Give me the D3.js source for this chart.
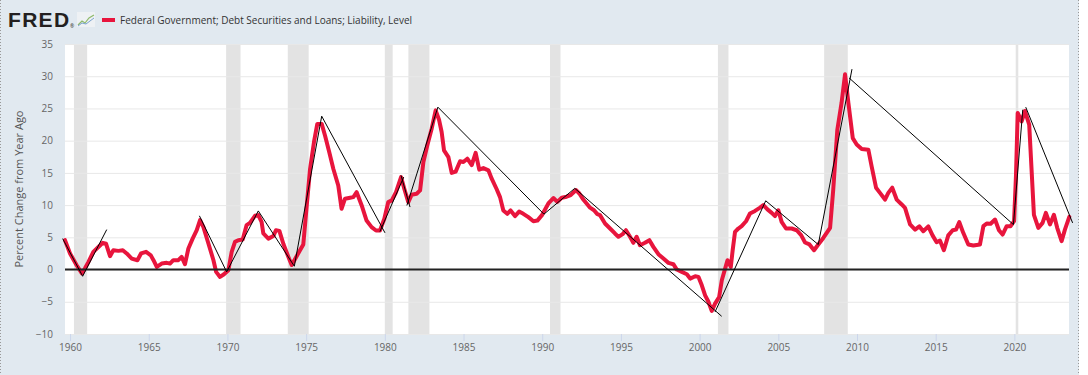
<!DOCTYPE html>
<html>
<head>
<meta charset="utf-8">
<script src="https://cdn.jsdelivr.net/npm/d3@7"></script>
<style>
  body { margin: 0; background: #fff; }
  text { font-family: "Open Sans", sans-serif; }
</style>
</head>
<body>
<div id="chart"></div>
<script>
// percent change from year ago (decimal year, value)
var years = [1959.68,1960.0,1960.42,1960.75,1960.95,1961.17,1961.48,1961.8,1962.08,1962.29,1962.54,1962.75,1963.07,1963.35,1963.6,1963.92,1964.28,1964.51,1964.83,1965.13,1965.3,1965.51,1965.82,1966.14,1966.35,1966.56,1966.88,1967.09,1967.3,1967.52,1967.79,1968.05,1968.26,1968.47,1968.79,1969.11,1969.28,1969.53,1969.78,1970.06,1970.27,1970.48,1970.69,1970.97,1971.22,1971.43,1971.75,1971.96,1972.17,1972.28,1972.6,1972.92,1973.08,1973.3,1973.55,1973.87,1974.08,1974.29,1974.61,1974.82,1975.04,1975.25,1975.5,1975.71,1975.99,1976.2,1976.47,1976.73,1977.04,1977.25,1977.47,1977.79,1978.0,1978.21,1978.53,1978.84,1979.16,1979.44,1979.69,1979.97,1980.22,1980.44,1980.71,1981.03,1981.24,1981.49,1981.7,1982.02,1982.24,1982.45,1982.7,1982.98,1983.23,1983.45,1983.61,1983.76,1984.04,1984.25,1984.5,1984.78,1984.99,1985.24,1985.52,1985.77,1986.0,1986.26,1986.58,1986.79,1987.1,1987.32,1987.53,1987.78,1987.99,1988.27,1988.53,1988.8,1989.12,1989.44,1989.69,1989.97,1990.39,1990.71,1990.96,1991.24,1991.55,1991.81,1992.15,1992.36,1992.57,1992.82,1993.04,1993.29,1993.5,1993.67,1993.99,1994.31,1994.62,1994.84,1995.11,1995.32,1995.58,1995.79,1996.0,1996.21,1996.53,1996.81,1997.06,1997.38,1997.7,1998.02,1998.33,1998.55,1998.87,1999.19,1999.4,1999.72,1999.93,2000.14,2000.35,2000.56,2000.77,2000.98,2001.24,2001.41,2001.62,2001.77,2001.98,2002.1,2002.25,2002.46,2002.67,2002.95,2003.2,2003.52,2003.84,2004.05,2004.31,2004.58,2004.79,2005.0,2005.21,2005.49,2005.85,2006.17,2006.45,2006.7,2006.98,2007.27,2007.54,2007.86,2008.29,2008.49,2008.75,2009.02,2009.24,2009.45,2009.73,2009.98,2010.3,2010.72,2010.93,2011.21,2011.46,2011.78,2011.99,2012.24,2012.52,2012.84,2013.05,2013.37,2013.69,2013.96,2014.21,2014.53,2014.8,2015.06,2015.27,2015.52,2015.8,2016.08,2016.29,2016.5,2016.75,2017.07,2017.39,2017.81,2018.03,2018.24,2018.49,2018.77,2019.02,2019.25,2019.51,2019.76,2019.98,2020.1,2020.21,2020.46,2020.67,2020.94,2021.09,2021.24,2021.52,2021.79,2022.0,2022.26,2022.51,2022.72,2023.0,2023.21,2023.49];
var pct = [4.56,2.5,0.67,-0.6,0.2,1.2,2.75,3.5,4.15,4.0,2.07,3.0,2.9,3.0,2.5,1.7,1.45,2.5,2.75,2.2,1.45,0.4,0.93,1.04,0.93,1.45,1.45,1.97,0.83,3.26,4.8,6.1,7.67,6.63,4.04,1.45,-0.36,-1.14,-0.73,-0.1,2.75,4.3,4.56,4.66,6.9,7.25,8.34,8.45,7.4,5.6,4.8,5.2,6.1,6.0,4.0,1.97,0.7,1.6,3.0,3.9,9.95,15.6,19.8,22.6,22.6,20.8,18.2,15.6,13.05,9.43,11.0,11.14,11.24,12.0,9.95,7.6,6.58,6.06,6.06,7.88,10.47,10.73,12.0,14.35,12.5,10.47,11.6,11.76,12.28,16.7,19.3,21.9,24.7,23.2,21.35,18.5,17.46,15.0,15.2,16.8,16.7,17.2,16.2,18.1,15.5,15.75,15.4,14.1,12.5,11.24,9.17,8.65,9.17,8.3,9.0,8.65,8.13,7.5,7.6,8.4,10.26,11.1,10.5,11.14,11.3,11.55,12.33,11.8,11.0,10.26,9.6,9.2,8.6,8.45,7.15,6.37,5.6,5.08,5.5,6.1,5.08,4.15,5.08,3.78,4.15,4.56,3.52,2.38,1.7,1.04,0.83,0.0,-0.36,-0.73,-1.4,-1.04,-1.14,-2.44,-4.0,-5.0,-6.42,-5.28,-4.25,-1.66,0.15,1.45,0.41,3.0,5.85,6.37,6.74,7.5,8.7,9.1,9.6,10.0,9.33,8.8,8.3,9.2,7.4,6.37,6.37,6.1,5.34,4.2,3.9,3.0,3.88,4.9,6.47,12.4,21.7,25.9,30.3,25.9,20.4,19.4,18.7,18.6,16.0,12.7,11.9,10.86,11.9,12.7,10.86,10.1,9.57,7.0,6.2,6.7,5.95,6.7,5.3,4.24,4.5,3.0,5.3,6.1,6.2,7.35,5.7,3.88,3.72,3.88,6.73,7.14,7.1,7.76,6.1,5.43,6.73,6.73,7.5,14.5,24.3,23.0,24.6,22.5,15.5,8.5,6.47,7.24,8.8,7.0,8.5,6.47,4.4,6.2,8.17];

// recessions (shaded)
var recStart = ["1960-04-01","1969-12-01","1973-11-01","1980-01-01","1981-07-01","1990-07-01","2001-03-01","2007-12-01","2020-02-01"];
var recEnd   = ["1961-02-01","1970-11-01","1975-03-01","1980-07-01","1982-11-01","1991-03-01","2001-11-01","2009-06-01","2020-04-01"];

// hand drawn black zigzag lines (decimal year, value)
var trendLines = [
  [[1959.53,4.8],[1960.8,-1.04],[1962.33,6.2]],
  [[1968.22,8.34],[1969.95,-0.36],[1971.96,9.1],[1974.25,0.52],[1975.99,23.8],[1980.01,5.7]],
  [[1979.69,5.9],[1981.2,14.35]],
  [[1981.03,14.6],[1981.6,9.7]],
  [[1981.4,9.95],[1983.37,25.2],[1990.11,8.6],[1992.07,12.6],[2001.4,-7.25]],
  [[2000.98,-6.58],[2004.2,10.67],[2007.54,3.88],[2009.68,31.1]],
  [[2009.49,29.75],[2019.94,6.98],[2020.53,24.8]],
  [[2020.72,25.2],[2023.7,7.24]]
];

var yTicks = [-10,-5,0,5,10,15,20,25,30,35];
var seriesName = "Federal Government; Debt Securities and Loans; Liability, Level";
var yTitle = "Percent Change from Year Ago";

var W = 1088, H = 375;
var plot = {left: 65, right: 1069, top: 44, bottom: 334};

function toDate(y){
    var yr = Math.floor(y);
    var s = new Date(yr,0,1), e = new Date(yr+1,0,1);
    return new Date(+s + (y-yr)*(e-s));
}

var xScale = d3.scaleTime()
    .domain([toDate(1959.68), toDate(2023.47)])
    .range([plot.left, plot.right]);

var yScale = d3.scaleLinear()
    .domain([-10, 35])
    .range([plot.bottom, plot.top]);

var svg = d3.select("#chart").append("svg")
    .attr("width", W)
    .attr("height", H);

// outer background
svg.append("rect")
    .attr("x",0).attr("y",0).attr("width",1079).attr("height",H)
    .attr("fill","#e1e9f0");
svg.append("line")
    .attr("x1",0.5).attr("x2",0.5).attr("y1",0).attr("y2",H)
    .attr("stroke","#999").attr("stroke-dasharray","1,2");
svg.append("line")
    .attr("x1",1078.5).attr("x2",1078.5).attr("y1",0).attr("y2",H)
    .attr("stroke","#999").attr("stroke-dasharray","1,2");

// header: logo + legend
var head = svg.append("g");
head.append("text")
    .attr("x",8).attr("y",27)
    .style("font-family","'Liberation Sans', Arial, sans-serif")
    .style("font-weight","bold")
    .style("font-size","21px")
    .style("letter-spacing","1.3px")
    .attr("fill","#231f20")
    .text("FRED");
head.append("text")
    .attr("x",70).attr("y",28)
    .style("font-size","5px")
    .attr("fill","#231f20")
    .text("®");
var icon = head.append("g").attr("transform","translate(77,12)");
icon.append("rect").attr("width",18).attr("height",15).attr("fill","#eef1f4");
icon.append("polyline")
    .attr("points","1,13 5,9 8,11 12,6 17,3")
    .attr("fill","none").attr("stroke","#8db96b").attr("stroke-width",1.2);
icon.append("polyline")
    .attr("points","1,14 5,11 9,12 13,9 17,6")
    .attr("fill","none").attr("stroke","#7aa3cf").attr("stroke-width",1);

head.append("line")
    .attr("x1",102).attr("x2",115).attr("y1",20).attr("y2",20)
    .attr("stroke","#e8153d").attr("stroke-width",4);
head.append("text")
    .attr("x",120).attr("y",24)
    .style("font-size","10px")
    .attr("fill","#333")
    .text(seriesName);

// plot area
svg.append("rect")
    .attr("x",plot.left).attr("y",plot.top)
    .attr("width",plot.right-plot.left).attr("height",plot.bottom-plot.top)
    .attr("fill","#fff");

svg.append("g").selectAll("rect")
    .data(recStart)
    .enter()
    .append("rect")
    .attr("x", function(d){ return xScale(new Date(d)); })
    .attr("width", function(d,i){ return xScale(new Date(recEnd[i])) - xScale(new Date(d)); })
    .attr("y", plot.top)
    .attr("height", plot.bottom-plot.top)
    .attr("fill","#e3e3e3");

// grid
svg.append("g").selectAll("line")
    .data(yTicks)
    .enter()
    .append("line")
    .attr("x1",plot.left).attr("x2",plot.right)
    .attr("y1",function(d){ return yScale(d)+0.5; })
    .attr("y2",function(d){ return yScale(d)+0.5; })
    .attr("stroke","#e8e8e8");

// y axis labels
var yAxis = d3.axisLeft(yScale).tickValues(yTicks).tickSize(0).tickPadding(12);
var yg = svg.append("g")
    .attr("transform","translate(" + plot.left + ",0)")
    .call(yAxis);
yg.select(".domain").remove();
yg.selectAll("text")
    .style("font-family","'Open Sans', sans-serif")
    .style("font-size","10px")
    .attr("fill","#666");

svg.append("text")
    .attr("transform","translate(23,189) rotate(-90)")
    .attr("text-anchor","middle")
    .style("font-size","11px")
    .attr("fill","#555")
    .text(yTitle);

// x axis
var xAxis = d3.axisBottom(xScale)
    .ticks(d3.timeYear.every(5))
    .tickFormat(d3.timeFormat("%Y"))
    .tickSize(7)
    .tickPadding(3);
var xg = svg.append("g")
    .attr("transform","translate(0," + plot.bottom + ")")
    .call(xAxis);
xg.select(".domain").remove();
xg.selectAll("line").attr("stroke","#ccd6eb");
xg.selectAll("text")
    .style("font-family","'Open Sans', sans-serif")
    .style("font-size","10px")
    .attr("fill","#666");

// series
var data = years.map(function(y,i){ return {date: toDate(y), value: pct[i]}; });
var line = d3.line()
    .x(function(d){ return xScale(d.date); })
    .y(function(d){ return yScale(d.value); });

svg.append("path")
    .datum(data)
    .attr("d", line)
    .attr("fill","none")
    .attr("stroke","#e8153d")
    .attr("stroke-width",4)
    .attr("stroke-linejoin","round")
    .attr("stroke-linecap","round");

// zero line
svg.append("line")
    .attr("x1",plot.left).attr("x2",plot.right)
    .attr("y1",yScale(0)).attr("y2",yScale(0))
    .attr("stroke","#222").attr("stroke-width",2);

// black zigzag lines
var tline = d3.line()
    .x(function(d){ return xScale(toDate(d[0])); })
    .y(function(d){ return yScale(d[1]); });
svg.append("g").selectAll("path")
    .data(trendLines)
    .enter()
    .append("path")
    .attr("d", tline)
    .attr("fill","none")
    .attr("stroke","#000")
    .attr("stroke-width",1);
</script>
</body>
</html>
